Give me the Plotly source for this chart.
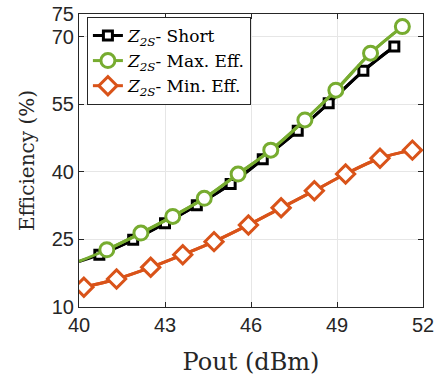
import plotly.graph_objects as go

# Data
short_x = [40.71, 41.89, 43.00, 44.11, 45.29, 46.41, 47.63, 48.71, 49.92, 51.00]
short_y = [21.6, 24.9, 28.6, 32.6, 37.3, 42.8, 49.1, 55.2, 62.4, 67.8]
short_fit_x = [40.0] + short_x
short_fit_y = [20.1] + short_y

maxeff_x = [40.97, 42.16, 43.27, 44.37, 45.55, 46.69, 47.88, 48.96, 50.17, 51.28]
maxeff_y = [22.7, 26.4, 30.1, 34.1, 39.5, 44.8, 51.5, 58.1, 66.3, 72.2]
maxeff_fit_x = [40.0] + maxeff_x
maxeff_fit_y = [20.1] + maxeff_y

mineff_x = [40.17, 41.31, 42.50, 43.62, 44.71, 45.91, 47.05, 48.21, 49.30, 50.50, 51.63]
mineff_y = [14.4, 16.2, 18.8, 21.6, 24.5, 28.2, 32.0, 35.8, 39.5, 43.0, 44.8]

x_ticks = [40, 43, 46, 49, 52]
y_ticks = [10, 25, 40, 55, 70, 75]

BLACK = "#000000"
GREEN = "#77AC30"
ORANGE = "#D95319"
SERIF = "DejaVu Serif, Liberation Serif, serif"

fig = go.Figure()

def add_series(fx, fy, mx, my, color, symbol, size, name):
    fig.add_trace(go.Scatter(x=fx, y=fy, mode="lines", line=dict(color=color, width=3, shape="spline"),
                             showlegend=False, hoverinfo="skip"))
    fig.add_trace(go.Scatter(x=mx, y=my, mode="lines+markers", name=name,
                             line=dict(color=color, width=3, shape="spline"),
                             marker=dict(symbol=symbol, size=size, color="white",
                                         line=dict(color=color, width=3))))

add_series(short_fit_x, short_fit_y, short_x, short_y, BLACK, "square", 9,
           "<i>Z</i><sub><i>2S</i></sub>- Short")
add_series(maxeff_fit_x, maxeff_fit_y, maxeff_x, maxeff_y, GREEN, "circle", 14,
           "<i>Z</i><sub><i>2S</i></sub>- Max. Eff.")
add_series(mineff_x, mineff_y, mineff_x, mineff_y, ORANGE, "diamond", 14,
           "<i>Z</i><sub><i>2S</i></sub>- Min. Eff.")

axis_common = dict(showline=True, linecolor="#262626", linewidth=1, mirror="ticks",
                   ticks="inside", ticklen=5, tickcolor="#262626", automargin=False,
                   showgrid=True, gridcolor="#e6e6e6", gridwidth=1, zeroline=False,
                   tickfont=dict(family="Liberation Sans, Arial", size=20, color="#262626"))

fig.update_xaxes(range=[40, 52], tickvals=x_ticks, ticktext=[str(v) for v in x_ticks],
                 title=dict(text="Pout (dBm)", font=dict(family=SERIF, size=24, color="#262626"), standoff=18),
                 **axis_common)
fig.update_yaxes(range=[10, 75], tickvals=y_ticks, ticktext=[str(v) for v in y_ticks],
                 title=dict(text="Efficiency (%)", font=dict(family=SERIF, size=20, color="#262626"), standoff=11),
                 **axis_common)

fig.update_layout(
    width=438, height=381,
    margin=dict(l=79, r=15, t=14, b=74),
    plot_bgcolor="white", paper_bgcolor="white",
    legend=dict(x=0.023, y=0.99, xanchor="left", yanchor="top",
                bgcolor="white", bordercolor="#262626", borderwidth=1,
                font=dict(family=SERIF, size=17, color="#000000"),
                tracegroupgap=0, itemwidth=30),
)

fig.write_html("out.html", config={"displayModeBar": False},
               post_script="document.body.style.margin='0';")
